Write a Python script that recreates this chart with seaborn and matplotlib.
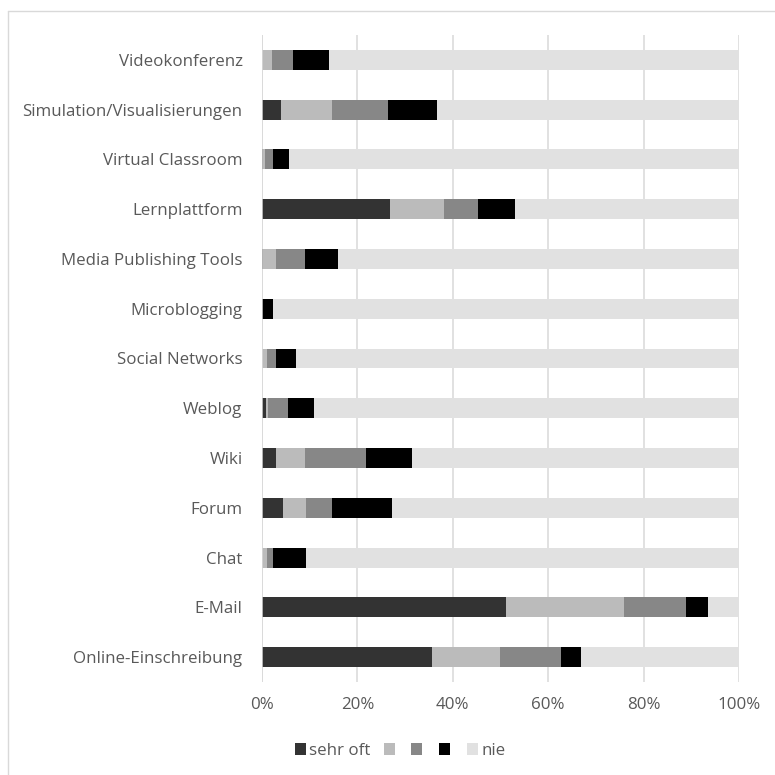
import numpy as np
import pandas as pd
import matplotlib
matplotlib.use("Agg")
import matplotlib.pyplot as plt
from matplotlib.patches import Rectangle
from matplotlib.lines import Line2D
from matplotlib.ticker import PercentFormatter
import seaborn as sns

# Tools / services, listed top to bottom
categories = [
    "Videokonferenz",
    "Simulation/Visualisierungen",
    "Virtual Classroom",
    "Lernplattform",
    "Media Publishing Tools",
    "Microblogging",
    "Social Networks",
    "Weblog",
    "Wiki",
    "Forum",
    "Chat",
    "E-Mail",
    "Online-Einschreibung",
]

# Share of answers per frequency level (percent)
sehr_oft = [0.0, 3.9, 0.3, 26.8, 0.3, 0.0, 0.0, 0.8, 2.9, 4.5, 0.0, 51.1, 35.7]
stufe_2 = [2.2, 10.8, 0.4, 11.3, 2.6, 0.0, 1.1, 0.5, 6.1, 4.7, 1.1, 24.8, 14.1]
stufe_3 = [4.2, 11.8, 1.7, 7.1, 6.1, 0.0, 1.8, 4.1, 12.9, 5.5, 1.3, 13.0, 12.9]
stufe_4 = [7.7, 10.2, 3.2, 7.8, 6.9, 2.4, 4.2, 5.5, 9.6, 12.6, 6.8, 4.6, 4.2]
nie = [85.9, 63.3, 94.4, 47.0, 84.1, 97.6, 92.9, 89.1, 68.5, 72.7, 90.8, 6.5, 33.1]

series_names = ["sehr oft", "", "", "", "nie"]
series_values = [sehr_oft, stufe_2, stufe_3, stufe_4, nie]
colors = ["#333333", "#bbbbbb", "#878787", "#000000", "#e1e1e1"]

sns.set_theme(style="white")
plt.rcParams["font.family"] = ["Open Sans", "DejaVu Sans"]
text_color = "#595959"
fs = 12.2

fig = plt.figure(figsize=(7.75, 7.75), dpi=100)
ax = fig.add_axes([262 / 775, 1 - 682 / 775, (739 - 262) / 775, (682 - 35) / 775])

# Stacked bars: draw cumulative totals from the outermost segment inwards
cum = np.cumsum(np.array(series_values), axis=0)
for i in range(len(series_values) - 1, -1, -1):
    df = pd.DataFrame({"Kategorie": categories, "Wert": cum[i]})
    sns.barplot(data=df, y="Kategorie", x="Wert", order=categories,
                color=colors[i], orient="h", width=0.40, ax=ax,
                saturation=1, linewidth=0, zorder=3)

ax.set_xlim(0, 100)
ax.set_ylim(len(categories) - 0.5, -0.5)
ax.xaxis.set_major_formatter(PercentFormatter(decimals=0))
ax.set_xticks(np.arange(0, 101, 20))
ax.grid(axis="x", color="#d9d9d9", linewidth=1.1, zorder=0)
ax.grid(axis="y", visible=False)
ax.set_axisbelow(True)
for s in ax.spines.values():
    s.set_visible(False)
ax.axvline(0, color="#d9d9d9", linewidth=1.1, zorder=4)
ax.set_xlabel("")
ax.set_ylabel("")
ax.tick_params(axis="y", length=0, pad=14, labelsize=fs, labelcolor=text_color)
ax.tick_params(axis="x", length=0, pad=11, labelsize=fs, labelcolor=text_color)

# Legend
handles = [Rectangle((0, 0), 1, 1, facecolor=c, edgecolor="none") for c in colors]
fig.legend(handles, series_names, loc="center", bbox_to_anchor=(400 / 775, 1 - 751 / 775),
           ncol=5, frameon=False, fontsize=fs, labelcolor=text_color,
           handlelength=0.65, handleheight=0.65, handletextpad=0.2,
           columnspacing=0.78, borderpad=0)

# Chart area outline
fig.add_artist(Line2D([8 / 775, 8 / 775], [0, 1 - 11 / 775], transform=fig.transFigure,
                      color="#d9d9d9", linewidth=1.0))
fig.add_artist(Line2D([8 / 775, 1], [1 - 11 / 775, 1 - 11 / 775], transform=fig.transFigure,
                      color="#d9d9d9", linewidth=1.0))

fig.savefig("out.png", dpi=100, facecolor="white")
